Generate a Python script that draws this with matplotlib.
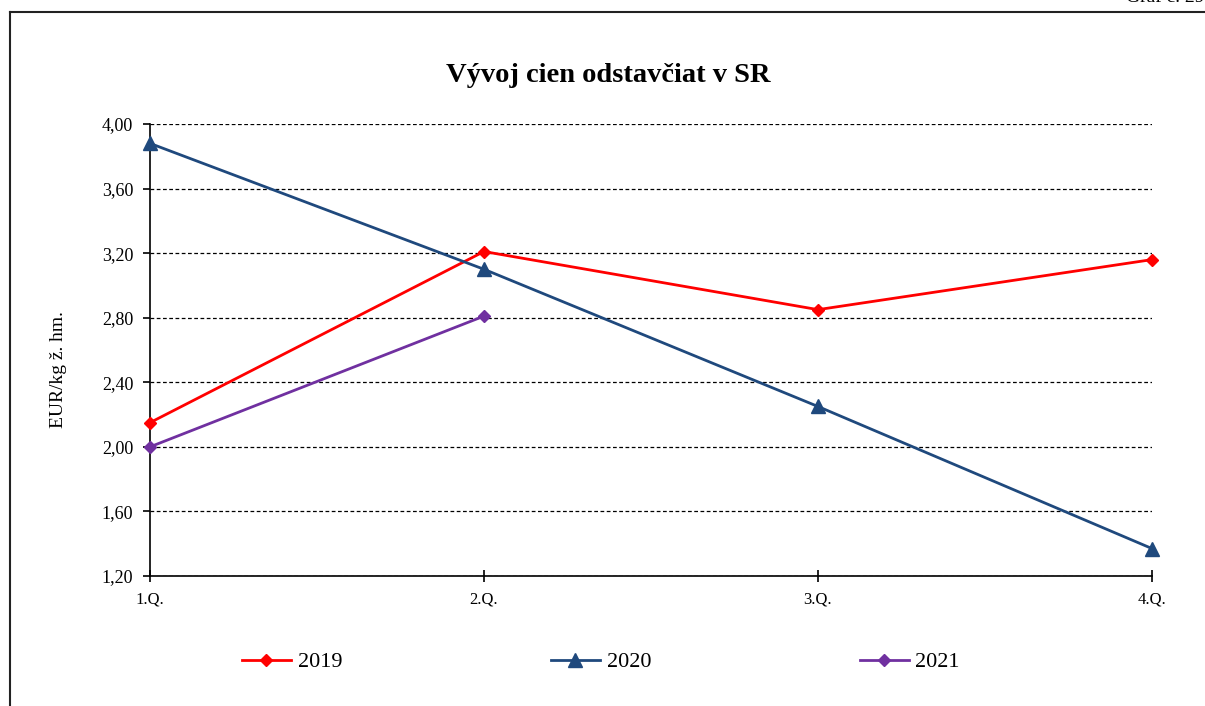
import matplotlib
matplotlib.use("Agg")
import matplotlib.pyplot as plt
from matplotlib.lines import Line2D

categories = ["1.Q.", "2.Q.", "3.Q.", "4.Q."]
y2019 = [2.15, 3.21, 2.85, 3.16]
y2020 = [3.88, 3.10, 2.25, 1.37]
y2021 = [2.00, 2.81]
yticks = [1.20, 1.60, 2.00, 2.40, 2.80, 3.20, 3.60, 4.00]
title = "Vývoj cien odstavčiat v SR"
ylabel = "EUR/kg ž. hm."

plt.rcParams['font.family'] = ['Liberation Serif', 'DejaVu Serif']

W, H = 1205, 706
fig = plt.figure(figsize=(W / 100, H / 100), dpi=100)
ax = fig.add_axes([150 / W, 1 - 576 / H, (1152 - 150) / W, (576 - 124) / H])

x = list(range(len(categories)))
ax.plot(x, y2019, color='#FF0000', lw=2.0, marker='D', ms=6.5, label='2019', zorder=3, clip_on=False)
ax.plot(x, y2020, color='#1F497D', lw=2.0, marker='^', ms=9.5, label='2020', zorder=3, clip_on=False)
ax.plot(x[:len(y2021)], y2021, color='#7030A0', lw=2.0, marker='D', ms=6.5, label='2021', zorder=3, clip_on=False)

ax.set_xlim(0, 3)
ax.set_ylim(1.2, 4.0)
ax.set_xticks(x)
ax.set_xticklabels(categories, fontsize=12)
ax.set_yticks(yticks)
ax.set_yticklabels([f"{v:.2f}".replace('.', ',') for v in yticks], fontsize=13)
ax.yaxis.grid(True, color='black', linestyle=(0, (3, 2)), linewidth=0.9)
ax.set_axisbelow(True)
for s in ['top', 'right']:
    ax.spines[s].set_visible(False)
for s in ['left', 'bottom']:
    ax.spines[s].set_linewidth(1.2)
ax.tick_params(axis='y', direction='out', length=5, width=1.2, pad=7)
ax.tick_params(axis='x', direction='inout', length=9, width=1.2, pad=7)
ax.set_ylabel(ylabel, fontsize=14)
ax.yaxis.set_label_coords((67 - 150) / (1152 - 150), (576 - 370) / (576 - 124))

fig.text(608 / W, 1 - 75 / H, title, fontsize=20.5, fontweight='bold', ha='center', va='center')
fig.text(1205 / W, 1 - 6 / H, "Graf č. 29", fontsize=14, ha='right', va='bottom')

fig.add_artist(Line2D([10 / W, 10 / W], [0, 1 - 12 / H], color='#222222', lw=1.5))
fig.add_artist(Line2D([10 / W, 1], [1 - 12 / H, 1 - 12 / H], color='#222222', lw=1.5))

fig.legend(loc='center', bbox_to_anchor=(601 / W, 1 - 662 / H), ncol=3, frameon=False,
           fontsize=16, handlelength=2.2, handletextpad=0.3, columnspacing=9.4)

fig.savefig("out.png", dpi=100)
